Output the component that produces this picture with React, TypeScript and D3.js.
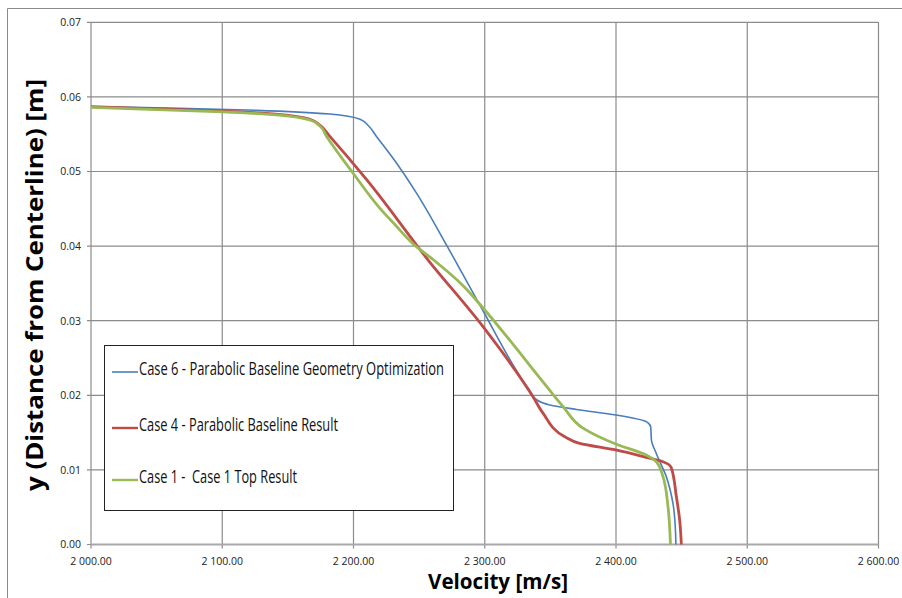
import React from "react";
import * as d3 from "d3";

// Velocity profiles: velocity [m/s] against distance from centreline [m]
const case6Velocity = [2000, 2060, 2126, 2182, 2205, 2211, 2217.5, 2230, 2248, 2271, 2297.5, 2334, 2339.5, 2349.5, 2370, 2400, 2423, 2426.4, 2427, 2430.7, 2438.3, 2443.4, 2445.4, 2445.6];
const case6Y = [0.0587, 0.0585, 0.0582, 0.0577, 0.057, 0.0562, 0.0547, 0.0518, 0.0471, 0.0401, 0.0317, 0.0207, 0.0194, 0.0187, 0.0181, 0.01736, 0.01647, 0.0158, 0.014, 0.0122, 0.0091, 0.0055, 0.0015, 0.0];

const case4Velocity = [2000, 2100.7, 2141, 2166.8, 2174.4, 2182, 2210, 2257, 2298.7, 2336.8, 2344.4, 2361, 2372.3, 2399.8, 2423, 2435.8, 2442, 2446, 2448.5, 2449.8];
const case4Y = [0.0587, 0.0581, 0.0577, 0.057, 0.0562, 0.0547, 0.0489, 0.0381, 0.0292, 0.0198, 0.0176, 0.01445, 0.01356, 0.01267, 0.01169, 0.0111, 0.01035, 0.0064, 0.0033, 0.0];

const case1Velocity = [2000, 2100.7, 2141, 2166.8, 2174.4, 2179.5, 2200, 2220, 2232, 2245.4, 2260.6, 2283.5, 2298.7, 2319, 2343, 2359.6, 2374.9, 2399.8, 2423, 2430.7, 2435.8, 2439.6, 2441.5];
const case1Y = [0.0586, 0.058, 0.0576, 0.0569, 0.0561, 0.0547, 0.0497, 0.0451, 0.0428, 0.0403, 0.0382, 0.0347, 0.0317, 0.0274, 0.0221, 0.0185, 0.0156, 0.01347, 0.012, 0.0111, 0.0091, 0.0051, 0.0];

const seriesNames = [
  "Case 6 - Parabolic Baseline Geometry Optimization",
  "Case 4 - Parabolic Baseline Result",
  "Case 1 -  Case 1 Top Result",
];

const xTicks = [2000, 2100, 2200, 2300, 2400, 2500, 2600];
const yTicks = [0, 0.01, 0.02, 0.03, 0.04, 0.05, 0.06, 0.07];

const xTitle = "Velocity [m/s]";
const yTitle = "y (Distance from Centerline) [m]";

const W = 902;
const H = 598;
const plot = { left: 91, right: 878.5, top: 22.3, bottom: 544.5 };

const x = d3.scaleLinear().domain([2000, 2600]).range([plot.left, plot.right]);
const y = d3.scaleLinear().domain([0, 0.07]).range([plot.bottom, plot.top]);

const fmtX = (v: number) => d3.format(",.2f")(v).replace(/,/g, " ");
const fmtY = d3.format(".2f");

const series = [
  { name: seriesNames[0], vx: case6Velocity, vy: case6Y, color: "#4a7ebb", width: 1.6 },
  { name: seriesNames[1], vx: case4Velocity, vy: case4Y, color: "#be4b48", width: 2.8 },
  { name: seriesNames[2], vx: case1Velocity, vy: case1Y, color: "#98b954", width: 2.8 },
];

// y rises monotonically from the wall to the top, so interpolate along y
const line = d3
  .line<[number, number]>()
  .x((d) => x(d[0]))
  .y((d) => y(d[1]))
  .curve(d3.curveMonotoneY);

const legendTextLengths = [305, 199, 158];
const legendBaselines = [375, 431, 483];

export default function App() {
  const grid = "#8c8c8c";
  const tickFont = "'Open Sans', 'DejaVu Sans', sans-serif";
  return (
    <svg
      width={W}
      height={H}
      viewBox={`0 0 ${W} ${H}`}
      style={{ position: "absolute", left: 0, top: 0, background: "#fff" }}
    >
      <rect x={0} y={0} width={W} height={H} fill="#fff" />
      {/* chart area border */}
      <line x1={7.5} y1={8.5} x2={W} y2={8.5} stroke="#8a8a8a" strokeWidth={1} />
      <line x1={7.5} y1={8.5} x2={7.5} y2={H} stroke="#8a8a8a" strokeWidth={1} />

      {/* gridlines */}
      {xTicks.map((t) => (
        <line key={"gx" + t} x1={x(t)} x2={x(t)} y1={plot.top} y2={plot.bottom + 4} stroke={grid} strokeWidth={1.2} />
      ))}
      {yTicks.map((t) => (
        <line key={"gy" + t} x1={plot.left - 4} x2={plot.right} y1={y(t)} y2={y(t)} stroke={grid} strokeWidth={1.2} />
      ))}
      <line x1={plot.left} x2={plot.right} y1={plot.bottom} y2={plot.bottom} stroke="#a8a8a8" strokeWidth={1.8} />

      {/* tick labels */}
      {xTicks.map((t) => (
        <text key={"lx" + t} x={x(t)} y={564.5} textAnchor="middle" fontFamily={tickFont} fontSize={10.5} fill="#222">
          {fmtX(t)}
        </text>
      ))}
      {yTicks.map((t) => (
        <text key={"ly" + t} x={81} y={y(t) + 3.8} textAnchor="end" fontFamily={tickFont} fontSize={10.5} fill="#222">
          {fmtY(t)}
        </text>
      ))}

      {/* series */}
      {series.map((s) => {
        const pts = s.vx.map((v, i) => [v, s.vy[i]] as [number, number]).reverse();
        return (
          <path
            key={s.name}
            d={line(pts) || ""}
            fill="none"
            stroke={s.color}
            strokeWidth={s.width}
            strokeLinejoin="round"
          />
        );
      })}

      {/* legend */}
      <rect x={104.5} y={345.5} width={349} height={165} fill="#fff" stroke="#222" strokeWidth={1} />
      {series.map((s, i) => (
        <g key={"lg" + i}>
          <line x1={112} x2={138} y1={legendBaselines[i] - 3} y2={legendBaselines[i] - 3} stroke={s.color} strokeWidth={s.width > 2 ? 2.4 : 1.6} />
          <text
            x={139}
            y={legendBaselines[i]}
            fontFamily="'Open Sans', 'DejaVu Sans', sans-serif"
            fontSize={18}
            fill="#111"
            textLength={legendTextLengths[i]}
            lengthAdjust="spacingAndGlyphs"
            style={{ whiteSpace: "pre" }}
          >
            {s.name}
          </text>
        </g>
      ))}

      {/* axis titles */}
      <text
        x={498}
        y={589}
        textAnchor="middle"
        fontFamily="'Open Sans', 'DejaVu Sans', sans-serif"
        fontWeight="bold"
        fontSize={22}
        fill="#000"
        textLength={140}
        lengthAdjust="spacingAndGlyphs"
      >
        {xTitle}
      </text>
      <text
        transform="translate(43,285) rotate(-90)"
        textAnchor="middle"
        fontFamily="'Open Sans', 'DejaVu Sans', sans-serif"
        fontWeight="bold"
        fontSize={24}
        fill="#000"
        textLength={412}
        lengthAdjust="spacingAndGlyphs"
      >
        {yTitle}
      </text>
    </svg>
  );
}
